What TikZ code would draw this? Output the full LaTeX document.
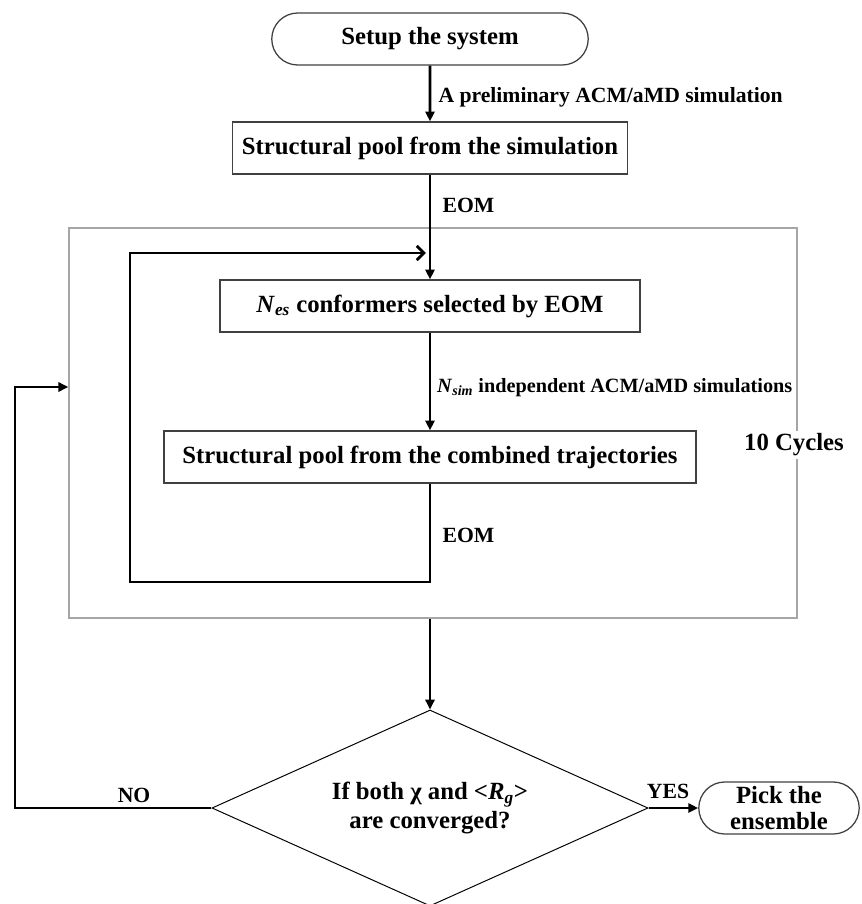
\documentclass[tikz,border=0pt]{standalone}
\usepackage{fontspec}
\setmainfont{Liberation Serif}
\usetikzlibrary{arrows.meta,shapes.geometric,shapes.misc}

\tikzset{
  stepbox/.style={draw=black!75,line width=0.9pt,minimum height=1.3cm,inner sep=2pt,font=\fontsize{17.6}{20}\selectfont\bfseries},
  term/.style={stepbox,rounded rectangle},
  flow/.style={line width=2.1pt,-{Triangle[length=7pt,width=6.5pt]}},
  back/.style={line width=2.1pt,-{Straight Barb[length=5pt,width=10pt,line width=2pt]}},
  lbl/.style={font=\fontsize{15.4}{17}\selectfont\bfseries,inner sep=1pt}
}

\begin{document}
\begin{tikzpicture}[x=0.025cm,y=-0.025cm]
\useasboundingbox (0,0) rectangle (862,904);

% outer cycle frame
\node[draw=black!35,line width=0.9pt,minimum width=18.2cm,minimum height=9.75cm] (loopbox) at (433,423) {};
\node[lbl,font=\fontsize{17.6}{20}\selectfont\bfseries,fill=white,inner sep=2pt] (cycles) at (794,445) {10 Cycles};

\node[term,minimum width=8.05cm] (setup) at (430,39) {Setup the system};
\node[stepbox,minimum width=9.875cm] (pool) at (430,148) {Structural pool from the simulation};
\node[stepbox,minimum width=10.5cm] (nes) at (430,306) {\textit{N}\textsubscript{\textit{es}} conformers selected by EOM};
\node[stepbox,minimum width=13.3cm] (comb) at (430,457) {Structural pool from the combined trajectories};
\node[draw=black,line width=0.7pt,diamond,shape aspect=2.2,minimum width=10.9cm,minimum height=4.9cm,inner sep=0pt,align=center,
  font=\fontsize{17.6}{20}\selectfont\bfseries] (cond) at (430,808)
  {If both χ and <\textit{R}\textsubscript{\textit{g}}>\\are converged?};
\node[term,minimum width=4.15cm,align=center,font=\fontsize{17.6}{18}\selectfont\bfseries] (pick) at (779,808) {Pick the\\ensemble};

\coordinate (loopbot) at (130,582);
\coordinate (looptop) at (130,253);
\coordinate (noturn) at (15,387);

\draw[flow] (setup) -- (pool) node[lbl,midway,right=4pt,yshift=-3pt] {A preliminary ACM/aMD simulation};
\draw[flow] (pool) -- (nes);
\node[lbl,anchor=west] (eom1) at (441,205) {EOM};
\draw[flow] (nes) -- (comb) node[lbl,font=\fontsize{14.4}{16}\selectfont\bfseries,midway,right=3pt,yshift=-4pt] {\textit{N}\textsubscript{\textit{sim}} independent ACM/aMD simulations};
\draw[back] (comb.south) |- (loopbot) -- (looptop) -- ([xshift=-3pt]looptop -| nes.north);
\node[lbl,anchor=west] (eom2) at (441,535) {EOM};
\draw[flow] (loopbox.south -| cond.north) -- (cond.north);
\draw[flow] (cond.west) -| (noturn) -- (noturn -| loopbox.west);
\node[lbl] (no) at (134,795) {NO};
\draw[flow] (cond.east) -- (pick.west);
\node[lbl] (yes) at (668,791) {YES};
\end{tikzpicture}
\end{document}
